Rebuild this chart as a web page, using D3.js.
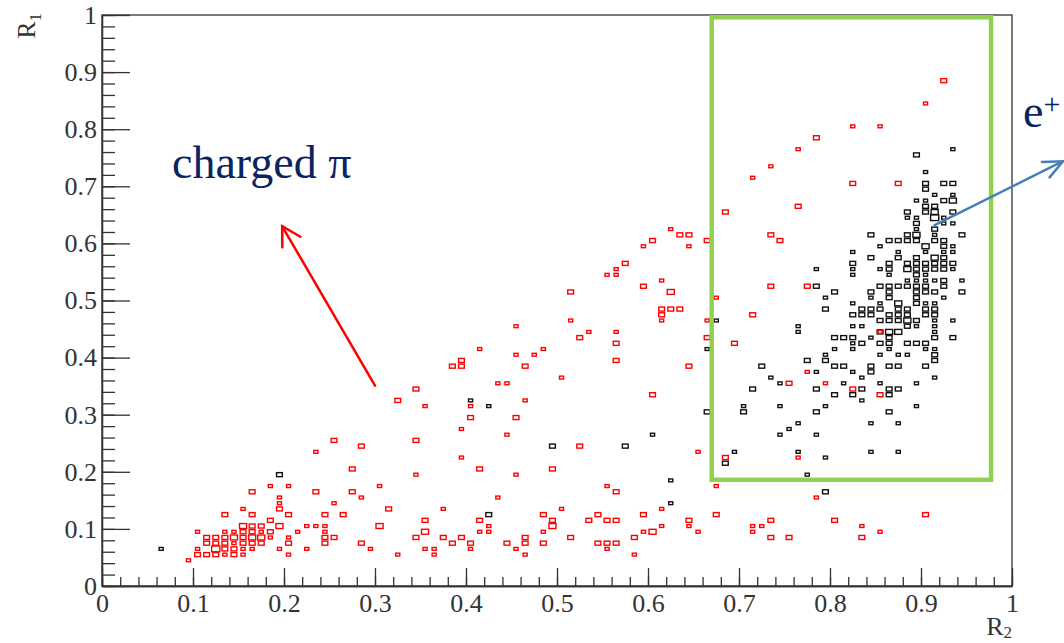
<!DOCTYPE html>
<html>
<head>
<meta charset="utf-8">
<script src="https://cdn.jsdelivr.net/npm/d3@7"></script>
<style>
  body { margin: 0; background: #fff; }
  svg { display: block; }
</style>
</head>
<body>
<div id="chart"></div>
<script>
// 2D histogram bins, 0.01 wide: [R2 low edge, R1 low edge, entries]
var pionBins = [
  [.09,.04,1],[.10,.05,2],[.10,.06,1],[.10,.09,1],[.11,.05,2],[.11,.07,2],[.11,.08,2],[.12,.05,2],[.12,.06,4],[.12,.07,2],
  [.12,.08,2],[.13,.05,1],[.13,.06,2],[.13,.07,2],[.13,.08,2],[.13,.09,1],[.13,.12,2],[.14,.05,2],[.14,.06,2],[.14,.07,1],
  [.14,.08,3],[.14,.09,1],[.15,.05,1],[.15,.06,1],[.15,.07,2],[.15,.08,2],[.15,.09,2],[.15,.10,3],[.15,.13,1],[.16,.06,1],
  [.16,.07,2],[.16,.08,3],[.16,.09,2],[.16,.10,2],[.16,.12,2],[.16,.16,2],[.17,.07,2],[.17,.08,3],[.17,.09,1],[.17,.10,2],
  [.18,.08,1],[.18,.09,2],[.18,.11,2],[.18,.17,1],[.19,.06,1],[.19,.10,3],[.19,.13,2],[.19,.14,1],[.19,.15,1],[.20,.05,1],
  [.20,.07,2],[.20,.08,1],[.20,.12,2],[.20,.17,1],[.21,.09,1],[.22,.06,1],[.22,.10,1],[.23,.10,1],[.23,.16,2],[.23,.23,1],
  [.24,.07,2],[.24,.08,2],[.24,.09,1],[.24,.10,1],[.24,.12,2],[.25,.08,2],[.25,.14,1],[.25,.25,2],[.26,.12,2],[.27,.16,2],
  [.27,.20,2],[.28,.07,2],[.28,.15,1],[.28,.24,2],[.29,.06,1],[.30,.10,3],[.30,.17,1],[.31,.13,2],[.32,.05,1],[.32,.32,2],
  [.34,.08,2],[.34,.19,1],[.34,.25,2],[.34,.34,2],[.35,.06,1],[.35,.09,3],[.35,.11,2],[.35,.31,1],[.36,.05,1],[.36,.06,1],
  [.37,.08,2],[.37,.13,1],[.38,.07,2],[.38,.38,2],[.39,.08,2],[.39,.22,1],[.39,.27,1],[.39,.38,2],[.39,.39,2],[.40,.06,1],
  [.40,.07,2],[.40,.29,2],[.40,.31,1],[.41,.09,1],[.41,.11,2],[.41,.20,2],[.41,.41,1],[.42,.09,1],[.42,.10,1],[.43,.15,1],
  [.43,.35,1],[.44,.07,2],[.44,.26,1],[.44,.35,1],[.45,.06,1],[.45,.19,1],[.45,.29,2],[.45,.40,1],[.45,.45,1],[.46,.05,1],
  [.46,.07,2],[.46,.08,2],[.46,.32,1],[.46,.38,2],[.47,.40,1],[.48,.07,2],[.48,.09,1],[.48,.12,2],[.48,.41,1],[.49,.10,3],
  [.49,.11,2],[.49,.20,2],[.50,.13,1],[.50,.36,1],[.51,.08,2],[.51,.46,1],[.51,.51,2],[.52,.24,2],[.52,.43,2],[.53,.11,2],
  [.53,.44,1],[.54,.07,2],[.54,.12,2],[.55,.06,1],[.55,.07,2],[.55,.11,2],[.55,.17,1],[.55,.54,1],[.56,.07,2],[.56,.11,2],
  [.56,.16,2],[.56,.39,2],[.56,.42,2],[.56,.44,1],[.56,.54,1],[.56,.55,1],[.57,.56,2],[.58,.05,1],[.58,.08,2],[.59,.09,1],
  [.59,.12,2],[.59,.52,2],[.59,.59,1],[.60,.09,3],[.60,.33,2],[.60,.60,2],[.61,.10,1],[.61,.13,1],[.61,.46,1],[.61,.47,2],
  [.61,.48,2],[.61,.53,1],[.62,.48,2],[.62,.51,3],[.62,.62,1],[.63,.48,2],[.63,.61,2],[.64,.10,1],[.64,.11,2],[.64,.38,2],
  [.64,.59,1],[.64,.61,2],[.65,.09,1],[.65,.23,1],[.66,.43,2],[.66,.46,1],[.66,.60,2],[.67,.12,2],[.67,.17,1],[.67,.50,1],
  [.68,.22,2],[.68,.65,2],[.69,.42,2],[.71,.09,1],[.71,.10,1],[.71,.47,2],[.71,.71,1],[.72,.10,1],[.73,.08,2],[.73,.11,2],
  [.73,.52,2],[.73,.61,2],[.73,.73,1],[.74,.60,2],[.75,.08,2],[.75,.35,2],[.76,.22,1],[.76,.66,2],[.76,.76,1],[.77,.37,1],
  [.77,.52,2],[.78,.15,1],[.78,.78,2],[.79,.35,1],[.80,.11,2],[.82,.34,2],[.82,.70,2],[.82,.80,1],[.83,.08,2],[.83,.10,1],
  [.85,.09,1],[.85,.33,2],[.85,.44,1],[.85,.80,1],[.87,.70,2],[.90,.12,2],[.90,.84,1],[.92,.88,2]
];

var positronBins = [
  [.06,.06,1],[.19,.19,2],[.40,.32,1],[.42,.31,1],[.42,.12,2],[.49,.24,2],[.57,.24,2],[.60,.26,1],[.62,.18,1],[.62,.14,1],
  [.66,.30,2],[.66,.41,1],[.67,.46,1],[.68,.21,2],[.69,.23,1],[.70,.30,2],[.70,.31,1],[.71,.34,2],[.72,.38,2],[.73,.36,1],
  [.74,.26,1],[.74,.31,1],[.74,.35,1],[.75,.27,1],[.76,.23,1],[.76,.28,1],[.76,.44,1],[.76,.45,1],[.77,.19,1],[.77,.39,2],
  [.78,.26,1],[.78,.30,2],[.78,.34,2],[.78,.37,1],[.78,.52,2],[.78,.55,1],[.79,.16,2],[.79,.22,1],[.79,.31,1],[.79,.39,2],
  [.79,.40,1],[.79,.48,2],[.79,.50,1],[.80,.33,2],[.80,.38,2],[.80,.41,1],[.80,.43,2],[.80,.51,2],[.81,.35,1],[.81,.38,2],
  [.81,.43,2],[.82,.33,2],[.82,.37,1],[.82,.41,1],[.82,.42,1],[.82,.43,2],[.82,.45,1],[.82,.47,2],[.82,.49,1],[.82,.54,1],
  [.82,.55,1],[.82,.56,2],[.82,.58,1],[.83,.32,1],[.83,.34,2],[.83,.36,1],[.83,.42,2],[.83,.45,1],[.83,.47,2],[.83,.48,2],
  [.84,.23,1],[.84,.28,1],[.84,.37,2],[.84,.38,2],[.84,.43,1],[.84,.47,2],[.84,.48,2],[.84,.50,1],[.84,.51,2],[.84,.57,2],
  [.84,.61,2],[.85,.35,1],[.85,.40,1],[.85,.42,2],[.85,.44,2],[.85,.46,2],[.85,.48,2],[.85,.49,1],[.85,.52,2],[.85,.55,1],
  [.85,.59,1],[.86,.30,2],[.86,.33,2],[.86,.34,2],[.86,.38,2],[.86,.41,1],[.86,.42,2],[.86,.43,2],[.86,.44,3],[.86,.46,2],
  [.86,.47,2],[.86,.50,2],[.86,.51,2],[.86,.52,2],[.86,.54,1],[.86,.55,2],[.86,.56,2],[.86,.60,2],[.87,.23,1],[.87,.28,1],
  [.87,.34,2],[.87,.38,2],[.87,.40,1],[.87,.44,3],[.87,.46,2],[.87,.47,2],[.87,.48,2],[.87,.49,3],[.87,.52,2],[.87,.57,2],
  [.87,.58,1],[.87,.60,2],[.88,.40,1],[.88,.42,2],[.88,.45,2],[.88,.46,3],[.88,.47,2],[.88,.48,2],[.88,.52,2],[.88,.53,1],
  [.88,.55,3],[.88,.56,2],[.88,.60,2],[.88,.61,2],[.88,.64,1],[.88,.65,2],[.89,.31,1],[.89,.35,1],[.89,.42,2],[.89,.45,1],
  [.89,.46,2],[.89,.49,2],[.89,.50,2],[.89,.51,2],[.89,.52,2],[.89,.53,1],[.89,.54,2],[.89,.55,2],[.89,.56,2],[.89,.57,2],
  [.89,.60,2],[.89,.61,3],[.89,.62,1],[.89,.63,2],[.89,.64,1],[.89,.67,1],[.89,.75,2],[.90,.38,2],[.90,.41,1],[.90,.42,2],
  [.90,.47,2],[.90,.48,2],[.90,.49,1],[.90,.51,2],[.90,.52,2],[.90,.53,1],[.90,.54,1],[.90,.55,2],[.90,.56,2],[.90,.58,1],
  [.90,.59,3],[.90,.65,2],[.90,.66,2],[.90,.67,1],[.90,.69,2],[.90,.70,2],[.90,.72,1],[.91,.36,1],[.91,.39,2],[.91,.40,2],
  [.91,.41,1],[.91,.43,2],[.91,.44,1],[.91,.45,1],[.91,.46,1],[.91,.47,2],[.91,.48,2],[.91,.49,1],[.91,.51,2],[.91,.53,1],
  [.91,.55,2],[.91,.56,2],[.91,.57,3],[.91,.60,2],[.91,.61,1],[.91,.62,2],[.91,.64,4],[.91,.65,3],[.91,.66,2],[.91,.68,1],
  [.92,.50,1],[.92,.52,2],[.92,.53,2],[.92,.55,2],[.92,.56,2],[.92,.57,2],[.92,.58,1],[.92,.59,2],[.92,.60,2],[.92,.63,1],
  [.92,.64,1],[.92,.67,2],[.92,.70,2],[.93,.43,2],[.93,.46,1],[.93,.55,1],[.93,.56,2],[.93,.58,1],[.93,.59,1],[.93,.63,1],
  [.93,.65,2],[.93,.67,3],[.93,.68,1],[.93,.70,2],[.93,.76,1],[.94,.51,2],[.94,.53,1],[.94,.61,2]
];

var majorTicks = [0, 0.1, 0.2, 0.3, 0.4, 0.5, 0.6, 0.7, 0.8, 0.9, 1];
var minorTicks = d3.range(0, 51).map(i => i / 50);

// selection window and annotations, in (R2, R1) units
var cutBox = [0.67, 0.186, 0.977, 0.996];
var pionArrow = [[0.300, 0.351], [0.198, 0.630]];
var positronArrow = [[0.915, 0.632], [1.056, 0.744]];

var width = 1064, height = 643;
var margin = {top: 15, right: 52, bottom: 57, left: 102};
var binW = 0.01, nMax = 4;
var serif = "'Liberation Serif', 'Times New Roman', serif";

var svg = d3.select("#chart").append("svg")
  .attr("width", width)
  .attr("height", height);

var x = d3.scaleLinear().domain([0, 1]).range([margin.left, width - margin.right]);
var y = d3.scaleLinear().domain([0, 1]).range([height - margin.bottom, margin.top]);

// frame
svg.append("rect")
  .attr("x", x(0)).attr("y", y(1))
  .attr("width", x(1) - x(0)).attr("height", y(0) - y(1))
  .attr("fill", "none").attr("stroke", "#333").attr("stroke-width", 1.3);

function drawBoxes(bins, color) {
  var bw = x(binW) - x(0), bh = y(0) - y(binW);
  svg.append("g").selectAll("rect")
    .data(bins)
    .join("rect")
    .attr("x", d => x(d[0] + binW / 2) - 0.9 * bw * Math.sqrt(d[2] / nMax) / 2)
    .attr("y", d => y(d[1] + binW / 2) - bh * Math.sqrt(d[2] / nMax) / 2)
    .attr("width", d => 0.9 * bw * Math.sqrt(d[2] / nMax))
    .attr("height", d => bh * Math.sqrt(d[2] / nMax))
    .attr("fill", "none")
    .attr("stroke", color)
    .attr("stroke-width", 1.4);
}
drawBoxes(positronBins, "#111");
drawBoxes(pionBins, "#ff0000");

// axes, ROOT style ticks pointing inward
function styleAxis(g) {
  g.attr("font-family", serif).attr("font-size", 26).style("color", "#333");
  g.select(".domain").attr("stroke-width", 1.3);
  g.selectAll(".tick line").attr("stroke-width", 1.3);
}
svg.append("g")
  .attr("transform", `translate(0,${y(0)})`)
  .call(d3.axisBottom(x).tickValues(minorTicks).tickSize(-9).tickSizeOuter(0).tickFormat(""))
  .call(styleAxis);
svg.append("g")
  .attr("transform", `translate(0,${y(0)})`)
  .call(d3.axisBottom(x).tickValues(majorTicks).tickSize(-18).tickSizeOuter(0).tickPadding(8).tickFormat(d3.format("~g")))
  .call(styleAxis);
svg.append("g")
  .attr("transform", `translate(${x(0)},0)`)
  .call(d3.axisLeft(y).tickValues(minorTicks).tickSize(-13).tickSizeOuter(0).tickFormat(""))
  .call(styleAxis);
svg.append("g")
  .attr("transform", `translate(${x(0)},0)`)
  .call(d3.axisLeft(y).tickValues(majorTicks).tickSize(-28).tickSizeOuter(0).tickPadding(5).tickFormat(d3.format("~g")))
  .call(styleAxis);

// axis titles
var yTitle = svg.append("text")
  .attr("transform", "translate(35,13) rotate(-90)")
  .attr("text-anchor", "end")
  .attr("font-family", serif).attr("font-size", 26).attr("fill", "#333")
  .text("R");
yTitle.append("tspan").attr("dy", 6).attr("font-size", 17).text("1");
var xTitle = svg.append("text")
  .attr("x", x(1)).attr("y", 635)
  .attr("text-anchor", "end")
  .attr("font-family", serif).attr("font-size", 26).attr("fill", "#333")
  .text("R");
xTitle.append("tspan").attr("dy", 3).attr("font-size", 17).text("2");

// selection window
svg.append("rect")
  .attr("x", x(cutBox[0])).attr("y", y(cutBox[3]))
  .attr("width", x(cutBox[2]) - x(cutBox[0]))
  .attr("height", y(cutBox[1]) - y(cutBox[3]))
  .attr("fill", "none").attr("stroke", "#92d050").attr("stroke-width", 4.5);

function drawArrow(pts, color, spread) {
  var x0 = x(pts[0][0]), y0 = y(pts[0][1]), x1 = x(pts[1][0]), y1 = y(pts[1][1]);
  var a = Math.atan2(y0 - y1, x0 - x1), len = 21;
  var g = svg.append("g").attr("stroke", color).attr("stroke-width", 2.5).attr("fill", "none")
    .attr("stroke-linecap", "round");
  g.append("line").attr("x1", x0).attr("y1", y0).attr("x2", x1).attr("y2", y1);
  g.append("path").attr("d", d3.line()([
    [x1 + len * Math.cos(a + spread), y1 + len * Math.sin(a + spread)],
    [x1, y1],
    [x1 + len * Math.cos(a - spread), y1 + len * Math.sin(a - spread)]
  ]));
}
drawArrow(pionArrow, "#ff0000", 0.52);
drawArrow(positronArrow, "#4a7ebb", 0.42);

svg.append("text")
  .attr("x", 172).attr("y", 178)
  .attr("font-family", serif).attr("font-size", 46).attr("fill", "#0b2461")
  .text("charged \u03c0");
var eText = svg.append("text")
  .attr("x", 1023).attr("y", 127)
  .attr("font-family", serif).attr("font-size", 46).attr("fill", "#0b2461")
  .text("e");
eText.append("tspan").attr("dy", -13).attr("font-size", 30).text("+");
</script>
</body>
</html>
